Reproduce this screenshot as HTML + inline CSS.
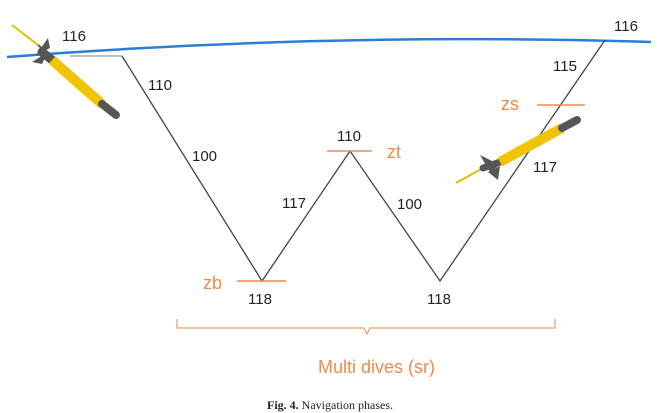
<!DOCTYPE html>
<html><head><meta charset="utf-8"><style>
body{margin:0;background:#fff;}
svg{display:block;}
text{font-family:"Liberation Sans",sans-serif;}
</style></head><body>
<svg width="657" height="413" viewBox="0 0 657 413">
<path d="M7 57 Q330 32 651 42" fill="none" stroke="#2a7fd4" stroke-width="2.5"/>
<polyline points="122,56 262,281 350,151 440,281 605,40" fill="none" stroke="#444" stroke-width="1.3"/>
<line x1="70" y1="56" x2="122" y2="56" stroke="#999" stroke-width="1.3"/>
<g stroke="#f08a4b" stroke-width="1.5">
<line x1="237" y1="281" x2="286" y2="281"/>
<line x1="327" y1="151" x2="372" y2="151"/>
<line x1="537" y1="105" x2="585" y2="105"/>
</g>
<g>
<line x1="12" y1="25" x2="38" y2="45" stroke="#e0c000" stroke-width="2"/>
<line x1="38" y1="45" x2="46" y2="52" stroke="#555" stroke-width="2"/>
<path d="M36 55 L48 38 L50 48 Z" fill="#555"/>
<path d="M32 62 L48 52 L42 64 Z" fill="#555"/>
<line x1="42" y1="52" x2="52" y2="60" stroke="#555" stroke-width="9" stroke-linecap="round"/>
<line x1="52" y1="60" x2="102" y2="104" stroke="#f2c300" stroke-width="10" stroke-linecap="butt"/>
<line x1="102" y1="104" x2="116" y2="115" stroke="#555" stroke-width="8" stroke-linecap="round"/>
</g>
<g>
<line x1="456" y1="183" x2="483" y2="168" stroke="#e0c000" stroke-width="2"/>
<path d="M480 155 L500 165 L490 172 Z" fill="#555"/>
<path d="M498 180 L500 166 L488 172 Z" fill="#555"/>
<line x1="483" y1="168" x2="500" y2="162" stroke="#555" stroke-width="7" stroke-linecap="round"/>
<line x1="500" y1="162" x2="562" y2="128" stroke="#f2c300" stroke-width="10"/>
<line x1="562" y1="128" x2="577" y2="120" stroke="#555" stroke-width="8" stroke-linecap="round"/>
</g>
<g font-size="15" fill="#222">
<text x="62" y="41">116</text>
<text x="148" y="90">110</text>
<text x="192" y="161">100</text>
<text x="282" y="208">117</text>
<text x="248" y="304">118</text>
<text x="337" y="141">110</text>
<text x="397" y="209">100</text>
<text x="427" y="304">118</text>
<text x="533" y="172">117</text>
<text x="553" y="71">115</text>
<text x="614" y="31">116</text>
</g>
<g font-size="18" fill="#f08a4b">
<text x="203" y="289">zb</text>
<text x="387" y="158">zt</text>
<text x="501" y="110">zs</text>
</g>
<path d="M177 319 L177 328 L364 328 L367 334 L370 328 L555 328 L555 319" fill="none" stroke="#f0a070" stroke-width="1.3"/>
<text x="318" y="373" font-size="18" fill="#f08a4b">Multi dives (sr)</text>
<text x="330" y="409" font-size="12" text-anchor="middle" fill="#222" style="font-family:'Liberation Serif',serif"><tspan font-weight="bold">Fig. 4.</tspan>  Navigation phases.</text>
</svg>
</body></html>
